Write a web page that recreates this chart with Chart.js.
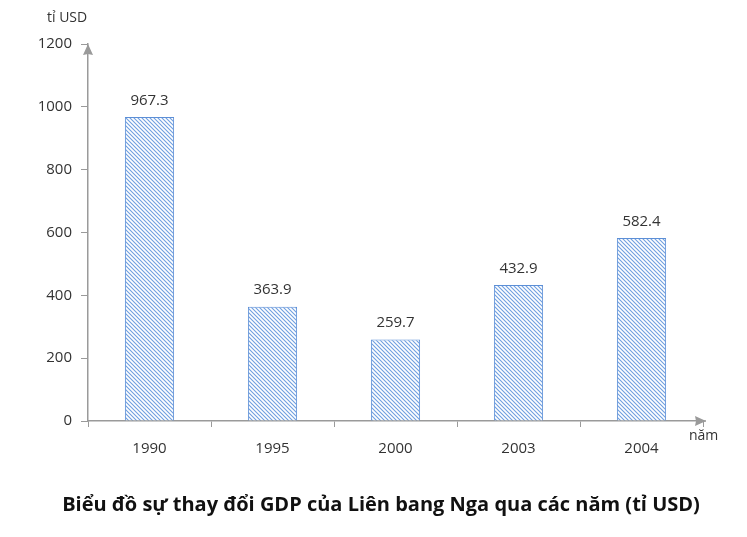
<!DOCTYPE html>
<html>
<head>
<meta charset="utf-8">
<script src="https://cdn.jsdelivr.net/npm/chart.js@4"></script>
<style>
  html, body { margin: 0; padding: 0; background: #fff; }
  #wrap { width: 747px; height: 537px; }
</style>
</head>
<body>
<div id="wrap"><canvas id="gdpChart" width="747" height="537"></canvas></div>
<script>
const years = ['1990', '1995', '2000', '2003', '2004'];
const gdp = [967.3, 363.9, 259.7, 432.9, 582.4];
const yTicks = [0, 200, 400, 600, 800, 1000, 1200];

const chartTitle = 'Biểu đồ sự thay đổi GDP của Liên bang Nga qua các năm (tỉ USD)';
const yUnit = 'tỉ USD';
const xUnit = 'năm';

const axisColor = '#9a9a9a';
const textColor = '#333';
const fontFamily = '"Open Sans", "DejaVu Sans", sans-serif';

// diagonal hatch like the original
function makeHatch() {
    const c = document.createElement('canvas');
    c.width = 4;
    c.height = 4;
    const g = c.getContext('2d');
    g.fillStyle = '#fff';
    g.fillRect(0, 0, 4, 4);
    g.strokeStyle = '#6f9fe0';
    g.lineWidth = 1.1;
    g.beginPath();
    g.moveTo(-1, -1); g.lineTo(5, 5);
    g.moveTo(-1, 3); g.lineTo(1, 5);
    g.moveTo(3, -1); g.lineTo(5, 1);
    g.stroke();
    return g.createPattern(c, 'repeat');
}

// arrows, unit labels, value labels and the bottom title
const decorPlugin = {
    id: 'decor',
    afterDraw(chart) {
        const ctx = chart.ctx;
        const area = chart.chartArea;
        const x0 = area.left, y0 = area.bottom;
        ctx.save();
        ctx.strokeStyle = axisColor;
        ctx.fillStyle = axisColor;
        ctx.lineWidth = 1.5;
        // y arrow
        ctx.beginPath();
        ctx.moveTo(x0, area.top + 10);
        ctx.lineTo(x0 - 5, area.top + 11);
        ctx.lineTo(x0, area.top);
        ctx.lineTo(x0 + 5, area.top + 11);
        ctx.closePath();
        ctx.fill();
        // x arrow
        const xe = area.right + 3;
        ctx.beginPath();
        ctx.moveTo(area.right - 2, y0);
        ctx.lineTo(xe, y0);
        ctx.stroke();
        ctx.beginPath();
        ctx.moveTo(xe - 10, y0);
        ctx.lineTo(xe - 11, y0 - 5);
        ctx.lineTo(xe, y0);
        ctx.lineTo(xe - 11, y0 + 5);
        ctx.closePath();
        ctx.fill();

        ctx.fillStyle = textColor;
        ctx.font = '14px ' + fontFamily;
        ctx.textAlign = 'left';
        ctx.textBaseline = 'middle';
        ctx.fillText(yUnit, 47, 18);
        ctx.fillText(xUnit, 689, 436);

        // value labels
        ctx.font = '15px ' + fontFamily;
        ctx.textAlign = 'center';
        ctx.textBaseline = 'bottom';
        const meta = chart.getDatasetMeta(0);
        meta.data.forEach(function(bar, i) {
            ctx.fillText(gdp[i].toFixed(1), bar.x, bar.y - 9);
        });

        // title
        ctx.font = 'bold 20px ' + fontFamily;
        ctx.fillStyle = '#111';
        ctx.textBaseline = 'middle';
        ctx.fillText(chartTitle, 381, 505);
        ctx.restore();
    }
};

const ctx = document.getElementById('gdpChart').getContext('2d');
const gdpChart = new Chart(ctx, {
    type: 'bar',
    data: {
        labels: years,
        datasets: [{
            label: 'GDP',
            data: gdp,
            backgroundColor: makeHatch(),
            borderColor: '#5d8fd6',
            borderWidth: 1,
            categoryPercentage: 1,
            barPercentage: 0.4
        }]
    },
    options: {
        responsive: false,
        animation: false,
        layout: { padding: { top: 44, right: 44, left: 0, bottom: 0 } },
        plugins: {
            legend: { display: false },
            tooltip: { enabled: false }
        },
        scales: {
            x: {
                afterFit: function(scale) { scale.height = 116; },
                border: { color: axisColor, width: 1.5 },
                grid: { offset: true, drawOnChartArea: false, drawTicks: true, tickLength: 6, color: axisColor },
                ticks: { color: textColor, font: { family: fontFamily, size: 15 }, padding: 13 }
            },
            y: {
                min: 0,
                max: 1200,
                afterFit: function(scale) { scale.width = 88; },
                afterBuildTicks: function(scale) {
                    scale.ticks = yTicks.map(function(v) { return { value: v }; });
                },
                border: { color: axisColor, width: 1.5 },
                grid: { drawOnChartArea: false, drawTicks: true, tickLength: 7, color: axisColor },
                ticks: {
                    color: textColor,
                    font: { family: fontFamily, size: 15 },
                    padding: 9,
                    callback: function(v) { return String(v); }
                }
            }
        }
    },
    plugins: [decorPlugin]
});
</script>
</body>
</html>
